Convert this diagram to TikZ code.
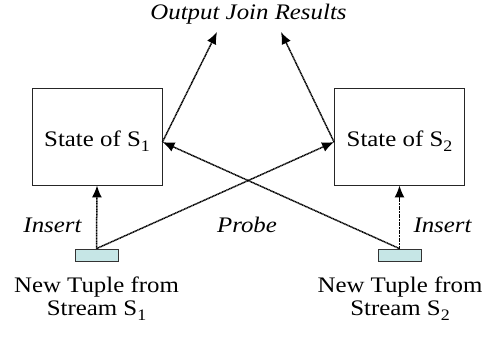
\documentclass[tikz,border=0pt]{standalone}
\usepackage{fontspec}
\setmainfont{Liberation Serif}[FakeStretch=1.12]
\usetikzlibrary{arrows.meta}
\definecolor{tuplefill}{RGB}{198,230,230}
\newcommand\subidx[1]{\raisebox{-5pt}{\fontsize{16}{16}\selectfont #1}}
\newcommand\statelabel[1]{\raisebox{-10.5pt}[0pt][0pt]{State of S\subidx{#1}}}
\begin{document}
\begin{tikzpicture}[x=1pt,y=-1pt,
  every node/.style={font=\fontsize{22.2}{23}\selectfont},
  statebox/.style={draw=black!85,line width=0.9pt,minimum width=130pt,minimum height=97pt,inner sep=0pt},
  tuplebox/.style={draw=black!80,fill=tuplefill,line width=0.8pt,minimum width=43pt,minimum height=12pt,inner sep=0pt},
  flow/.style={line width=1.5pt,dash pattern=on 1.1pt off 0.5pt,-{Latex[length=12pt,width=10pt]}},
  lbl/.style={anchor=base,inner sep=0pt,font=\fontsize{22.2}{23}\selectfont\itshape}]
\useasboundingbox (0,0) rectangle (485,339);

% join state of each stream
\node[statebox] (st1) at (97,136.5) {\statelabel{1}};
\node[statebox] (st2) at (399.5,136.5) {\statelabel{2}};

% incoming tuples
\node[tuplebox] (t1) at (96.5,255) {};
\node[tuplebox] (t2) at (399.5,255) {};

\node[align=center,anchor=north,inner sep=0pt] (c1) at (96.5,277) {New Tuple from\\Stream S\subidx{1}};
\node[align=center,anchor=north,inner sep=0pt] (c2) at (400,277) {New Tuple from\\Stream S\subidx{2}};

% join output
\node[lbl] (out) at (248.5,20) {Output Join Results};
\coordinate (o1) at (217,32);
\coordinate (o2) at (281,32);

\coordinate (e1) at ([yshift=-5.5pt]st1.east);
\coordinate (w2) at ([yshift=-5.5pt]st2.west);

% insert
\draw[flow] (t1.north) -- (st1.south);
\draw[flow] (t2.north) -- (st2.south);
% probe
\draw[flow] (t1.north) -- (w2);
\draw[flow] (t2.north) -- (e1);
% results
\draw[flow] (e1) -- (o1);
\draw[flow] (w2) -- (o2);

\node[lbl] (ins1) at (52.5,233) {Insert};
\node[lbl] (probe) at (247,233) {Probe};
\node[lbl] (ins2) at (442.5,233) {Insert};
\end{tikzpicture}
\end{document}
